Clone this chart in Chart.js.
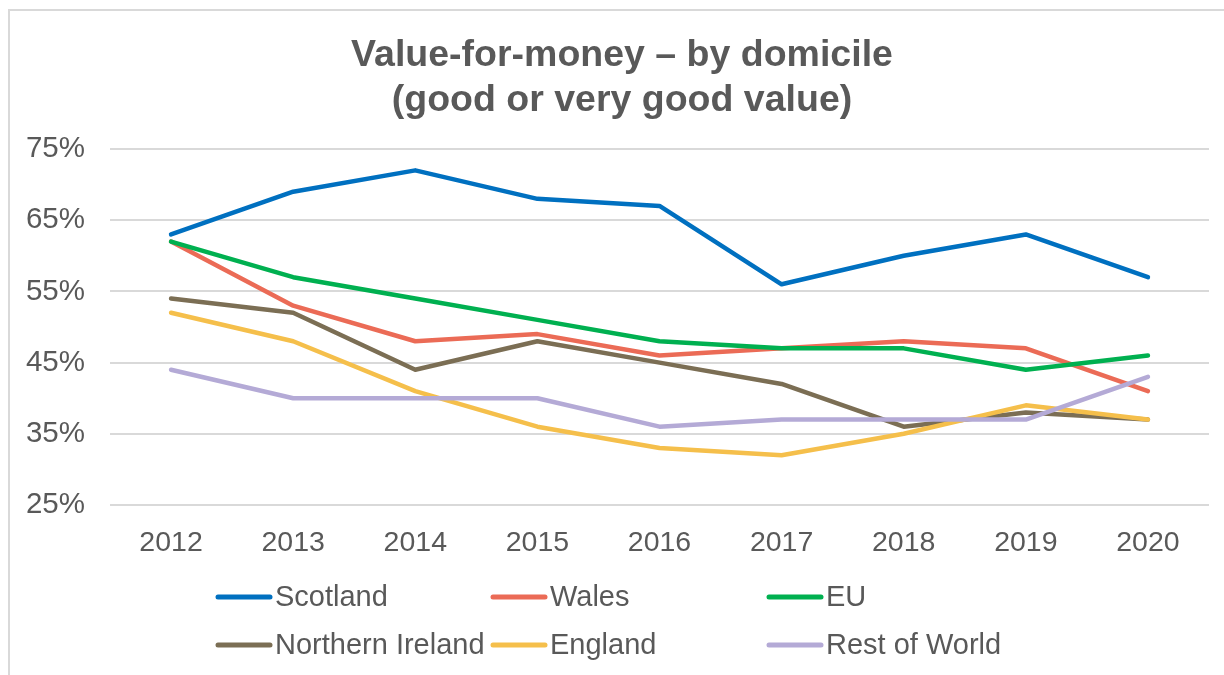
<!DOCTYPE html>
<html>
<head>
<meta charset="utf-8">
<script src="https://cdn.jsdelivr.net/npm/chart.js@4/dist/chart.umd.min.js"></script>
<style>
  html, body { margin: 0; padding: 0; background: #ffffff; }
  #wrap { position: relative; width: 1224px; height: 675px; }
</style>
</head>
<body>
<div id="wrap"><canvas id="c" width="1224" height="675"></canvas></div>
<script>
const years = ['2012','2013','2014','2015','2016','2017','2018','2019','2020'];
const scotland = [63, 69, 72, 68, 67, 56, 60, 63, 57];
const wales = [62, 53, 48, 49, 46, 47, 48, 47, 41];
const eu = [62, 57, 54, 51, 48, 47, 47, 44, 46];
const northernIreland = [54, 52, 44, 48, 45, 42, 36, 38, 37];
const england = [52, 48, 41, 36, 33, 32, 35, 39, 37];
const restOfWorld = [44, 40, 40, 40, 36, 37, 37, 37, 43];
const yTicks = [25, 35, 45, 55, 65, 75];
const titleLines = ['Value-for-money \u2013 by domicile', '(good or very good value)'];

const seriesNames = ['Scotland', 'Wales', 'EU', 'Northern Ireland', 'England', 'Rest of World'];
const seriesValues = [scotland, wales, eu, northernIreland, england, restOfWorld];
const seriesColors = ['#0070C0', '#EB6B56', '#00B050', '#7B6E54', '#F5BF4B', '#B4AAD6'];

const FONT = '"Liberation Sans", Arial, sans-serif';
const TEXT = '#595959';

const decorPlugin = {
  id: 'decor',
  beforeDraw(chart) {
    const ctx = chart.ctx;
    ctx.save();
    ctx.fillStyle = '#ffffff';
    ctx.fillRect(0, 0, chart.width, chart.height);
    ctx.strokeStyle = '#d9d9d9';
    ctx.lineWidth = 2;
    ctx.beginPath();
    ctx.moveTo(9, chart.height + 10);
    ctx.lineTo(9, 10);
    ctx.lineTo(chart.width + 10, 10);
    ctx.stroke();
    ctx.restore();
  },
  afterDraw(chart) {
    const ctx = chart.ctx;
    ctx.save();
    // title
    ctx.font = 'bold 37.5px ' + FONT;
    ctx.fillStyle = TEXT;
    ctx.textAlign = 'center';
    ctx.textBaseline = 'middle';
    titleLines.forEach((t, i) => ctx.fillText(t, 622, 56 + i * 45));
    // legend
    const cols = [216, 491, 767];
    const rows = [597, 645];
    ctx.font = '29px ' + FONT;
    ctx.textAlign = 'left';
    chart.data.datasets.forEach((ds, i) => {
      const x = cols[i % 3];
      const y = rows[Math.floor(i / 3)];
      ctx.strokeStyle = ds.borderColor;
      ctx.lineWidth = 5;
      ctx.lineCap = 'round';
      ctx.beginPath();
      ctx.moveTo(x + 2, y);
      ctx.lineTo(x + 54, y);
      ctx.stroke();
      ctx.fillStyle = TEXT;
      ctx.fillText(ds.label, x + 59, y + 1);
    });
    ctx.restore();
  }
};

const datasets = seriesNames.map((name, i) => ({
  label: name,
  data: seriesValues[i],
  borderColor: seriesColors[i],
  backgroundColor: seriesColors[i],
  borderWidth: 4.5,
  borderCapStyle: 'round',
  borderJoinStyle: 'round',
  pointRadius: 0,
  pointHoverRadius: 0,
  tension: 0,
  fill: false,
  order: seriesNames.length - i
}));

new Chart(document.getElementById('c'), {
  type: 'line',
  data: { labels: years, datasets: datasets },
  plugins: [decorPlugin],
  options: {
    responsive: false,
    animation: false,
    devicePixelRatio: 1,
    layout: { padding: { left: 0, right: 15, top: 149, bottom: 0 } },
    plugins: {
      legend: { display: false },
      tooltip: { enabled: false },
      title: { display: false }
    },
    scales: {
      x: {
        type: 'category',
        offset: true,
        grid: { display: false, drawTicks: false },
        border: { display: false },
        ticks: {
          color: TEXT,
          font: { family: FONT, size: 28.5 },
          padding: 21,
          maxRotation: 0,
          autoSkip: false
        },
        afterFit(scale) { scale.height = 170; }
      },
      y: {
        min: 25,
        max: 75,
        afterBuildTicks(scale) { scale.ticks = yTicks.map(v => ({ value: v })); },
        grid: { color: '#d9d9d9', lineWidth: 2, drawTicks: false },
        border: { display: false },
        ticks: {
          color: TEXT,
          font: { family: FONT, size: 29.5 },
          padding: 25,
          callback: (v) => v + '%'
        },
        afterFit(scale) { scale.width = 110; }
      }
    }
  }
});
</script>
</body>
</html>
